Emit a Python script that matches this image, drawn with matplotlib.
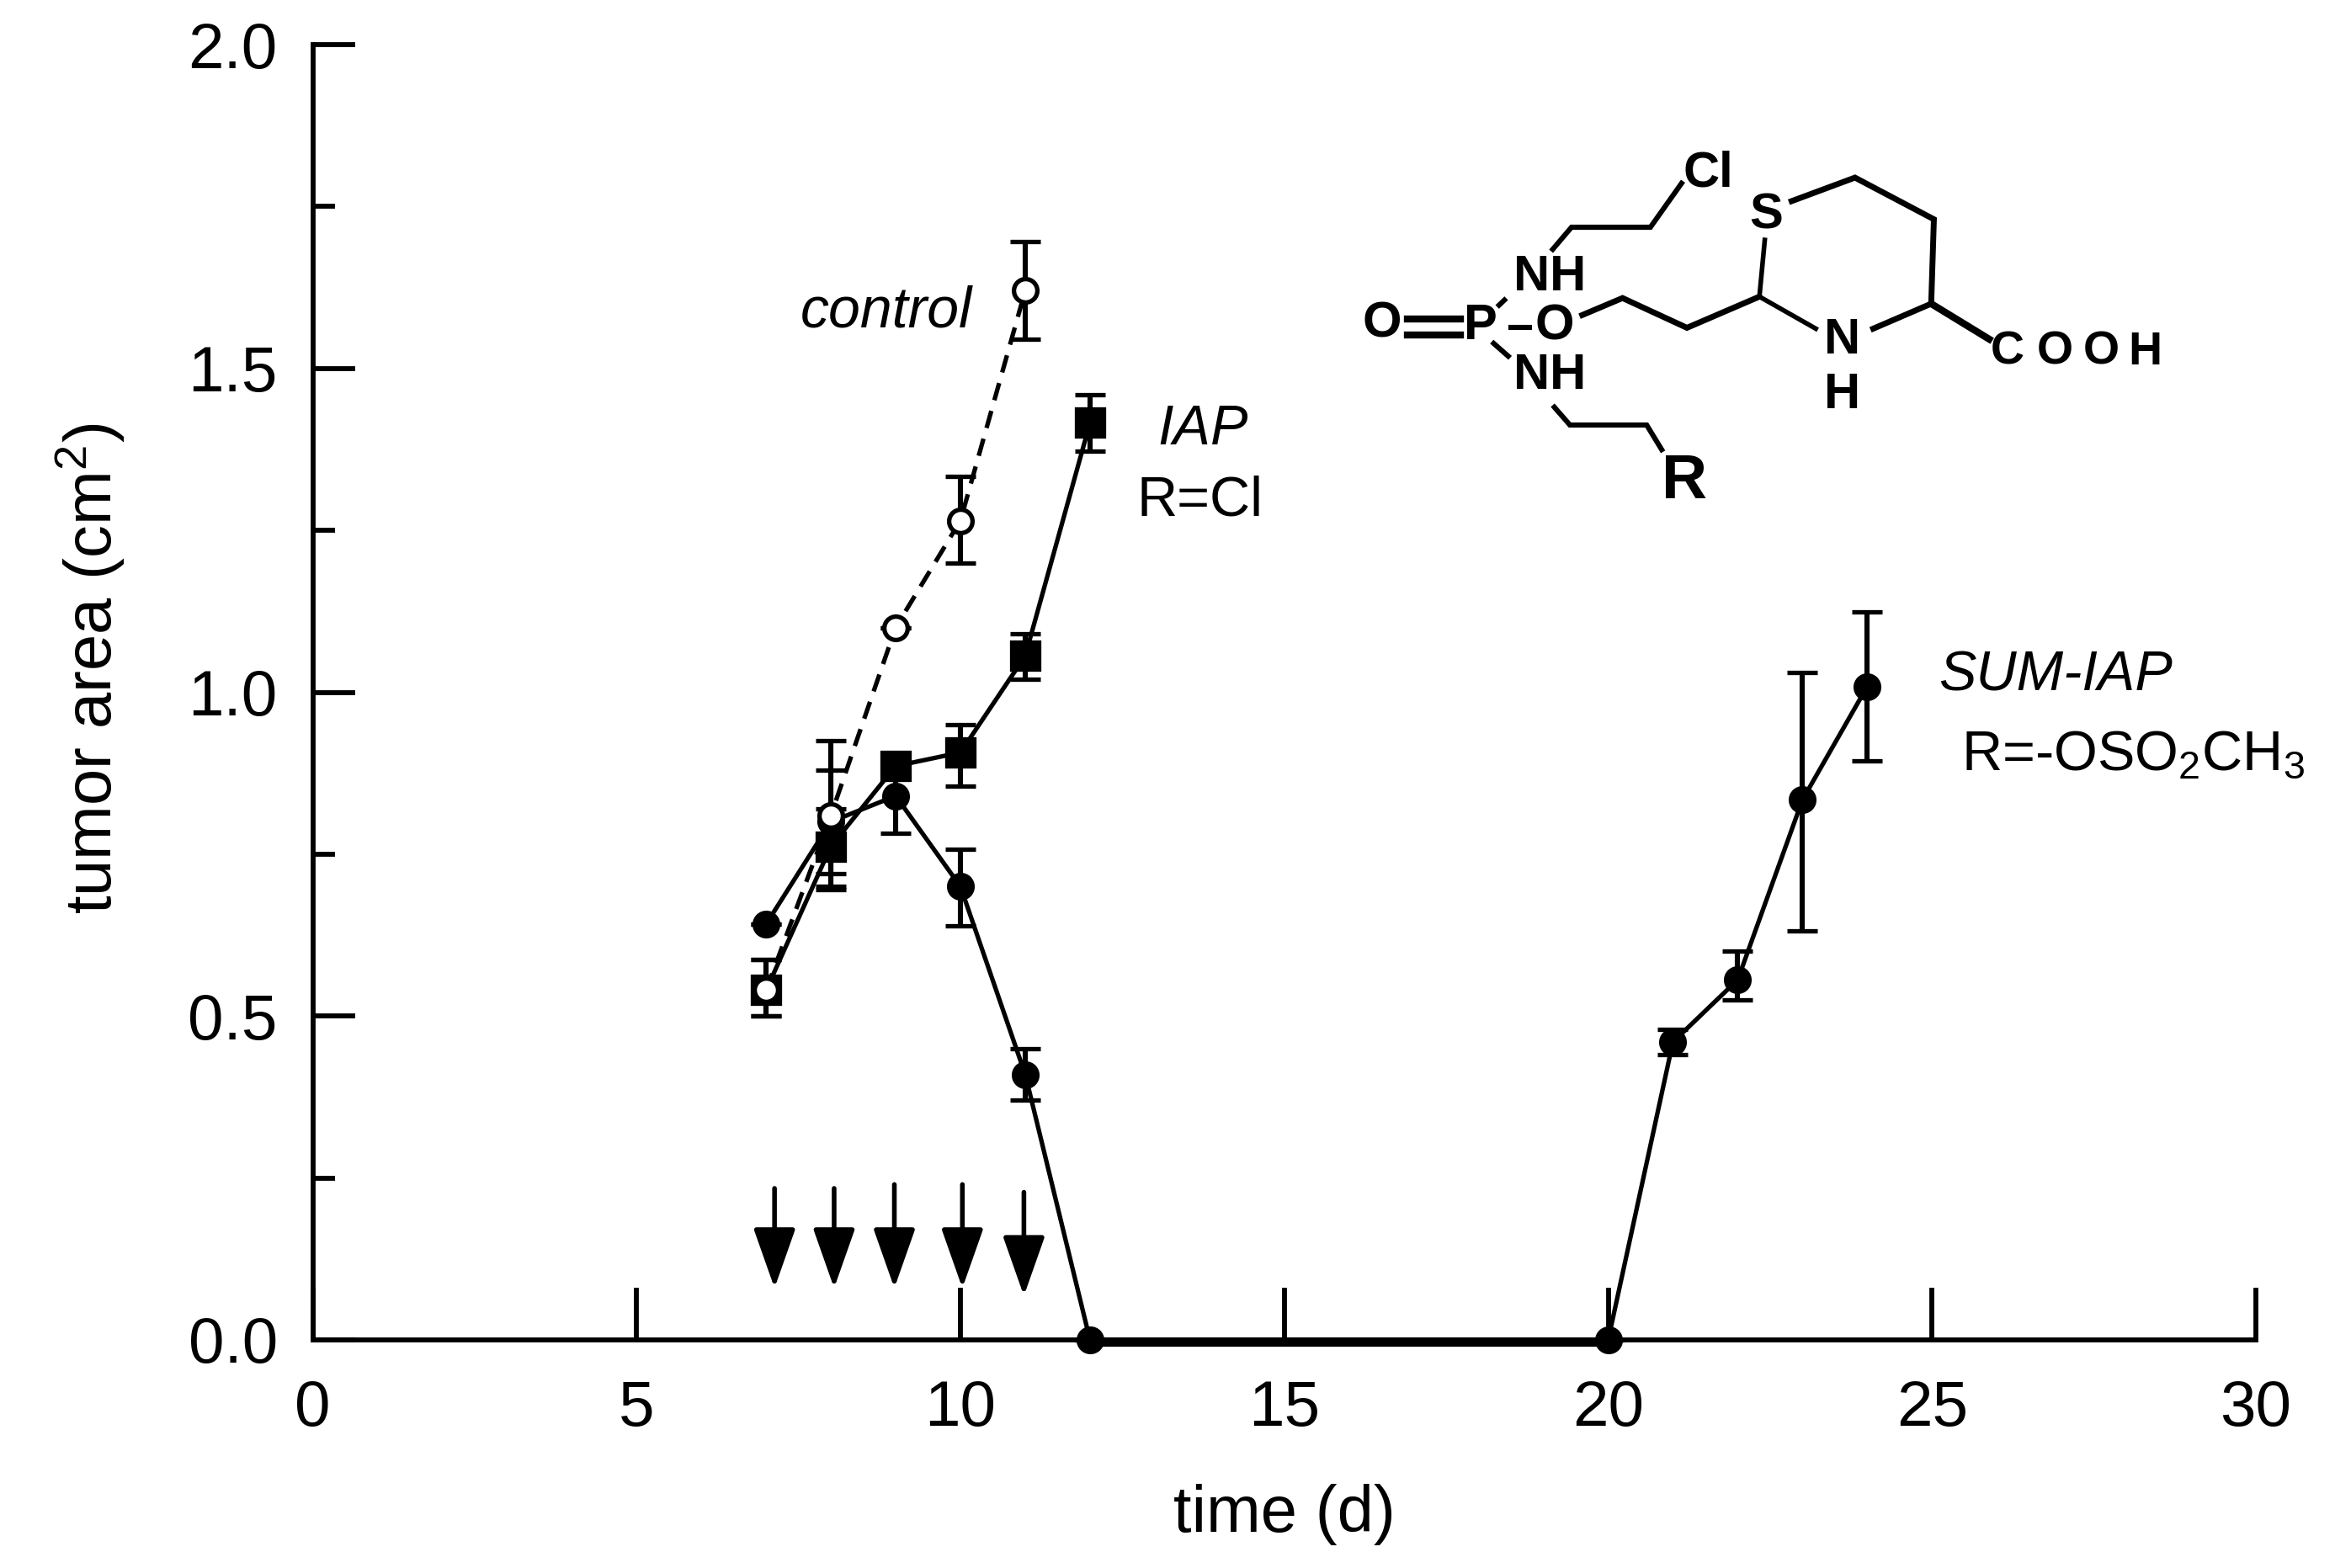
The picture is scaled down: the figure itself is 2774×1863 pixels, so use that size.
import matplotlib
matplotlib.use('Agg')
import numpy as np
import matplotlib.pyplot as plt
from matplotlib.lines import Line2D

plt.rcParams['font.family'] = ['Liberation Sans', 'DejaVu Sans']
plt.rcParams['mathtext.default'] = 'regular'

W, H = 2774, 1863

# control
ctl_t = np.array([7, 8, 9, 10, 11])
ctl_y = np.array([0.54, 0.81, 1.10, 1.265, 1.62])
ctl_lo = np.array([0.50, 0.695, 1.10, 1.20, 1.545])
ctl_hi = np.array([0.587, 0.925, 1.10, 1.333, 1.696])

# IAP
iap_t = np.array([7, 8, 9, 10, 11, 12])
iap_y = np.array([0.54, 0.762, 0.886, 0.907, 1.056, 1.416])
iap_lo = np.array([0.50, 0.70, 0.87, 0.855, 1.02, 1.372])
iap_hi = np.array([0.587, 0.82, 0.90, 0.95, 1.09, 1.46])

# SUM-IAP
sum_t = np.array([7, 8, 9, 10, 11, 12, 20, 21, 22, 23, 24])
sum_y = np.array([0.642, 0.80, 0.84, 0.70, 0.41, 0.0, 0.0, 0.46, 0.556, 0.834, 1.009])
sum_lo = np.array([0.642, 0.72, 0.782, 0.64, 0.37, 0.0, 0.0, 0.44, 0.525, 0.632, 0.894])
sum_hi = np.array([0.642, 0.88, 0.89, 0.758, 0.45, 0.0, 0.0, 0.48, 0.60, 1.03, 1.124])

# thick stretch along the axis
flat_t = [12, 20]
flat_y = [-0.006, -0.006]

# treatment arrows
arrow_t = [7.13, 8.05, 8.98, 10.03, 10.98]
arrow_top = [0.234, 0.234, 0.24, 0.24, 0.228]
arrow_tip = [0.08, 0.08, 0.08, 0.08, 0.068]

xticks = [0, 5, 10, 15, 20, 25, 30]
yticks = [0.0, 0.5, 1.0, 1.5, 2.0]
yminor = [0.25, 0.75, 1.25, 1.75]

fig = plt.figure(figsize=(W / 100, H / 100), dpi=100)
ax = fig.add_axes([371.5 / W, 1 - 1592 / H, (2680 - 371.5) / W, (1592 - 53) / H])


def series(t, y, lo, hi, ls, marker, mfc, ms):
    ax.errorbar(t, y, yerr=[y - lo, hi - y], color='k', ls=ls, lw=3.8, marker=marker,
                mfc=mfc, mec='k', mew=3.8, ms=ms, ecolor='k', elinewidth=4.4,
                capsize=13, capthick=3.8, clip_on=False)


ax.plot(flat_t, flat_y, color='k', lw=4.5, solid_capstyle='butt', clip_on=False)
series(sum_t, sum_y, sum_lo, sum_hi, '-', 'o', 'k', 20)
series(iap_t, iap_y, iap_lo, iap_hi, '-', 's', 'k', 23)
series(ctl_t, ctl_y, ctl_lo, ctl_hi, (0, (4, 2.5)), 'o', 'w', 20)

for t, top, tip in zip(arrow_t, arrow_top, arrow_tip):
    ax.annotate('', xy=(t, tip), xytext=(t, top),
                arrowprops=dict(arrowstyle='-|>,head_length=4.4,head_width=1.55', mutation_scale=10,
                                lw=4, color='k', shrinkA=0, shrinkB=0))

ax.set_xlim(0, 30)
ax.set_ylim(0, 2)
ax.set_xticks(xticks)
ax.set_yticks(yticks)
ax.set_yticks(yminor, minor=True)
ax.set_yticklabels(['%.1f' % v for v in yticks])
ax.tick_params(axis='x', which='major', direction='in', length=45, width=4.2, labelsize=55, pad=34)
ax.tick_params(axis='y', which='major', direction='in', length=36, width=4.2, labelsize=55, pad=30)
ax.tick_params(axis='y', which='minor', direction='in', length=19, width=4.2)
for s in ['top', 'right']:
    ax.spines[s].set_visible(False)
for s in ['left', 'bottom']:
    ax.spines[s].set_linewidth(4.2)

ax.set_xlabel('time (d)', fontsize=56, labelpad=38)
ax.set_ylabel('tumor area (cm$^2$)', fontsize=56, labelpad=52, y=0.518)

ax.text(8.85, 1.588, 'control', style='italic', fontsize=49, ha='center', va='center')
ax.text(13.75, 1.405, 'IAP', style='italic', fontsize=48, ha='center', va='center')
ax.text(13.7, 1.295, 'R=Cl', fontsize=48, ha='center', va='center')
ax.text(25.1, 1.025, 'SUM-IAP', style='italic', fontsize=48, ha='left', va='center')
ax.text(25.45, 0.903, 'R=-OSO$_2$CH$_3$', fontsize=48, ha='left', va='center', clip_on=False)


# structure formula, sketched in crop coordinates
def mol(X, Y):
    return (1580 + X / 1.568) / W, 1 - (142 + Y / 2.97) / H


bonds = [
    ([(415, 458), (450, 380), (597, 380), (655, 225)], 4.4),
    ([(418, 1015), (447, 1078), (590, 1078), (618, 1165)], 4.4),
    ([(315, 655), (325, 637)], 4.4),
    ([(305, 790), (332, 835)], 4.4),
    ([(145, 705), (243, 705)], 6),
    ([(145, 760), (243, 760)], 6),
    ([(337, 735), (372, 735)], 4.4),
    ([(470, 690), (545, 630), (665, 735), (800, 625)], 5),
    ([(800, 625), (905, 738)], 4),
    ([(800, 625), (810, 425)], 4),
    ([(860, 288), (978, 205), (1125, 352), (1120, 650), (1012, 738)], 5),
    ([(1120, 650), (1228, 775)], 6),
]
for pts, lw in bonds:
    fx, fy = zip(*[mol(*p) for p in pts])
    fig.add_artist(Line2D(fx, fy, color='k', lw=lw, transform=fig.transFigure,
                          solid_joinstyle='miter'))

atoms = [
    ('Cl', 705, 190, 43), ('S', 812, 338, 43), ('NH', 410, 557, 43), ('O', 97, 722, 43),
    ('P', 280, 730, 43), ('O', 418, 730, 43), ('NH', 410, 905, 43), ('N', 955, 780, 43),
    ('H', 955, 972, 43), ('C', 1262, 822, 40), ('O', 1350, 822, 40), ('O', 1437, 822, 40),
    ('H', 1518, 822, 40), ('R', 660, 1278, 54),
]
for s, X, Y, size in atoms:
    fx, fy = mol(X, Y)
    fig.text(fx, fy, s, fontsize=size, fontweight='bold', ha='center', va='center')

fig.savefig('out.png', dpi=100)
